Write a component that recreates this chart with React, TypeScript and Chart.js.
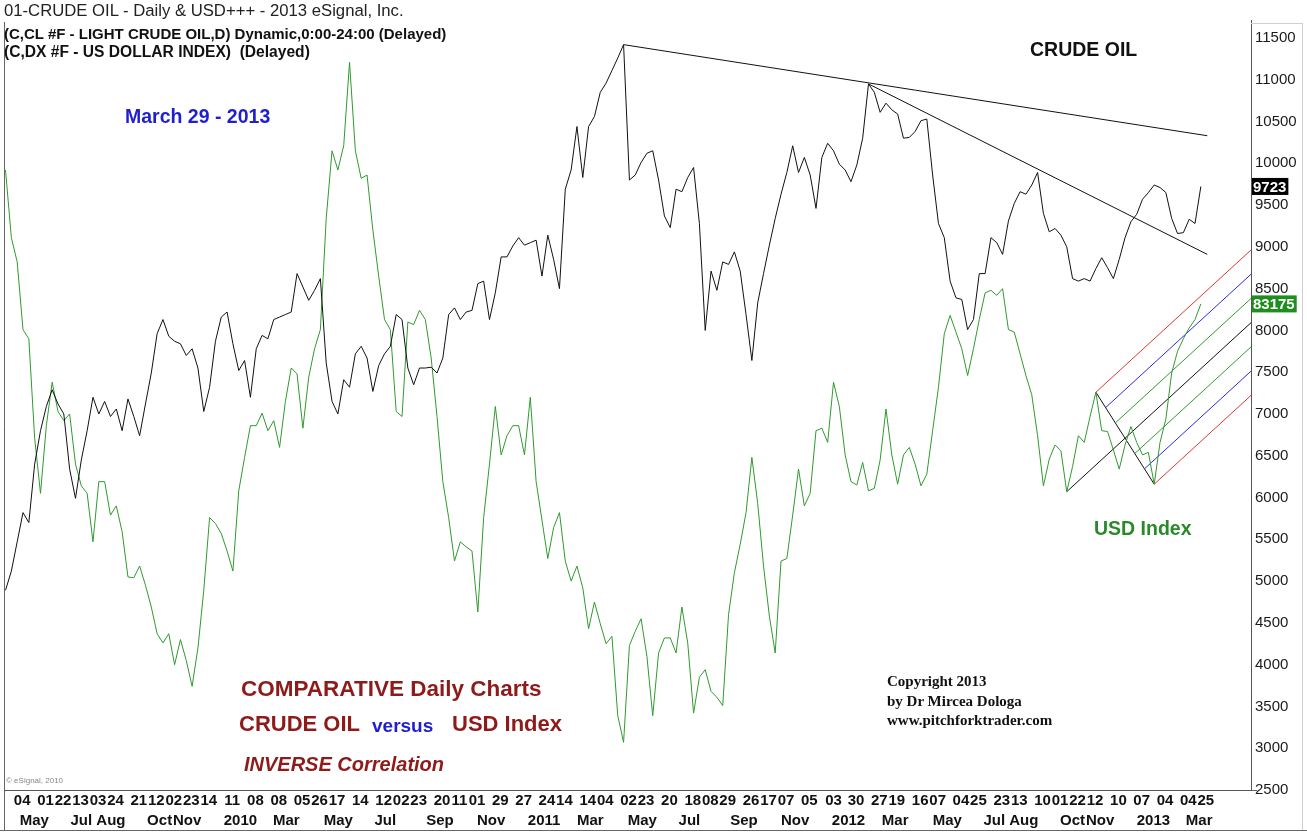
import React, { useEffect, useRef } from "react";
import { Chart, registerables } from "chart.js";
Chart.register(...registerables);

// ---------- data ----------
// one sample per week, the first one on this date
const firstSampleDate = "2009-04-14";
const sampleStepDays = 7;

// Light crude oil (cents)
const crudeOil: number[] = [
  4890, 5120, 5470, 5820, 5700, 6400, 6800, 7090, 7290, 7120,
  7000, 6340, 5990, 6450, 6800, 7200, 7000, 7150, 6970, 7060,
  6800, 7180, 6970, 6740, 7120, 7490, 7960, 8130, 7930, 7870,
  7840, 7700, 7780, 7550, 7030, 7320, 7870, 8160, 8220, 7840,
  7520, 7640, 7200, 7780, 7940, 7900, 8130, 8160, 8190, 8220,
  8680, 8520, 8360, 8480, 8620, 7610, 7150, 7000, 7410, 7320,
  7720, 7810, 7670, 7270, 7580, 7720, 7810, 8190, 8130, 7550,
  7350, 7550, 7550, 7560, 7490, 7670, 8190, 8270, 8130, 8220,
  8240, 8560, 8590, 8130, 8450, 8880, 8880, 9010, 9110, 9020,
  9050, 9080, 8650, 9140, 8850, 8500, 9690, 9920, 10440, 9830,
  10440, 10560, 10850, 10960, 11110, 11260, 11420, 9800, 9860, 10010,
  10120, 10150, 9800, 9370, 9230, 9690, 9660, 9830, 9950, 9280,
  8000, 8710, 8480, 8820, 8790, 8940, 8710, 8190, 7640, 8330,
  8680, 9020, 9340, 9630, 9890, 10210, 9890, 10070, 9860, 9460,
  10070, 10240, 10150, 9990, 9920, 9780, 9980, 10300, 10950, 10850,
  10610, 10720, 10640, 10590, 10300, 10310, 10380, 10510, 10530, 9860,
  9280, 9110, 8590, 8390, 8370, 8010, 8130, 8680, 8680, 9110,
  9050, 8910, 9310, 9520, 9660, 9630, 9740, 9890, 9400, 9180,
  9220, 9140, 9000, 8620, 8590, 8620, 8590, 8740, 8870, 8750,
  8620, 8850, 9110, 9300, 9390, 9570, 9650, 9740, 9710, 9650,
  9340, 9160, 9170, 9330, 9280, 9723,
];

// US Dollar Index (x100, drawn on the same scale)
const usdIndex: number[] = [
  9920, 9110, 8820, 8010, 7900, 6710, 6050, 6860, 7380, 7030,
  6920, 7000, 6400, 6140, 6050, 5470, 6190, 6190, 5790, 5900,
  5590, 5050, 5040, 5180, 4950, 4690, 4370, 4260, 4370, 4000,
  4300, 4050, 3740, 4200, 4890, 5760, 5690, 5570, 5360, 5120,
  6080, 6480, 6860, 6860, 7010, 6800, 6920, 6600, 7150, 7550,
  7480, 6830, 7440, 7780, 8010, 9340, 10150, 9920, 10210, 11210,
  10150, 9820, 9860, 9200, 8650, 8130, 8010, 7030, 6970, 8100,
  8070, 8240, 8130, 7670, 6970, 6190, 5760, 5240, 5470, 5410,
  5360, 4630, 5760, 6400, 7090, 6510, 6740, 6860, 6860, 6510,
  7200, 6190, 5730, 5270, 5640, 5820, 5240, 5000, 5180, 4920,
  4430, 4750, 4490, 4250, 4340, 3390, 3070, 4230, 4400, 4550,
  4100, 3390, 4140, 4320, 4320, 4140, 4690, 4260, 3420, 3850,
  3940, 3680, 3610, 3510, 4600, 5100, 5440, 5820, 6480, 5930,
  5180, 4580, 4140, 5240, 5270, 5790, 6340, 5900, 6050, 6800,
  6830, 6660, 7380, 7090, 6510, 6190, 6150, 6420, 6080, 6110,
  6450, 7060, 6510, 6160, 6510, 6600, 6400, 6140, 6280, 6800,
  7320, 7960, 8180, 7980, 7780, 7460, 7780, 8130, 8450, 8480,
  8420, 8500, 8010, 7980, 7720, 7460, 7230, 6740, 6140, 6460,
  6630, 6560, 6070, 6370, 6740, 6660, 6970, 7260, 6800, 6790,
  6570, 6340, 6630, 6850, 6660, 6510, 6540, 6160, 6660, 6940,
  7490, 7750, 7900, 8030, 8130, 8317.5,
];

const dayTickDates = [
  "2009-05-04", "2009-06-01", "2009-06-22", "2009-07-13", "2009-08-03", "2009-08-24",
  "2009-09-21", "2009-10-12", "2009-11-02", "2009-11-23", "2009-12-14",
  "2010-01-11", "2010-02-08", "2010-03-08", "2010-04-05", "2010-04-26", "2010-05-17",
  "2010-06-14", "2010-07-12", "2010-08-02", "2010-08-23", "2010-09-20", "2010-10-11",
  "2010-11-01", "2010-11-29", "2010-12-27",
  "2011-01-24", "2011-02-14", "2011-03-14", "2011-04-04", "2011-05-02", "2011-05-23",
  "2011-06-20", "2011-07-18", "2011-08-08", "2011-08-29", "2011-09-26", "2011-10-17",
  "2011-11-07", "2011-12-05",
  "2012-01-03", "2012-01-30", "2012-02-27", "2012-03-19", "2012-04-16", "2012-05-07",
  "2012-06-04", "2012-06-25", "2012-07-23", "2012-08-13", "2012-09-10", "2012-10-01",
  "2012-10-22", "2012-11-12", "2012-12-10",
  "2013-01-07", "2013-02-04", "2013-03-04", "2013-03-25",
];

const monthTickDates = [
  "2009-05-01", "2009-07-01", "2009-08-01", "2009-10-01", "2009-11-01",
  "2010-01-01", "2010-03-01", "2010-05-01", "2010-07-01", "2010-09-01", "2010-11-01",
  "2011-01-01", "2011-03-01", "2011-05-01", "2011-07-01", "2011-09-01", "2011-11-01",
  "2012-01-01", "2012-03-01", "2012-05-01", "2012-07-01", "2012-08-01", "2012-10-01",
  "2012-11-01", "2013-01-01", "2013-03-01",
];
const monthTickLabels = [
  "May", "Jul", "Aug", "Oct", "Nov",
  "2010", "Mar", "May", "Jul", "Sep", "Nov",
  "2011", "Mar", "May", "Jul", "Sep", "Nov",
  "2012", "Mar", "May", "Jul", "Aug", "Oct",
  "Nov", "2013", "Mar",
];

const priceTicks = [
  2500, 3000, 3500, 4000, 4500, 5000, 5500, 6000, 6500, 7000,
  7500, 8000, 8500, 9000, 9500, 10000, 10500, 11000, 11500,
];

// crude oil trend lines: [sample position, value]
const oilTrendStarts = [[106, 11420], [148, 10950]];
const oilTrendEnds = [[206.1, 10330], [206.1, 8910]];

// USD pitchfork pivots (sample indices): start pivot, high, low
const forkPivots = [182, 187, 197];
const forkLevels = [1, 2 / 3, 1 / 3, 0, -1 / 3, -2 / 3, -1];

// ---------- helpers ----------
const DAY = 86400000;
const toUTC = (s: string) => {
  const [y, m, d] = s.split("-").map(Number);
  return Date.UTC(y, m - 1, d);
};
const dateToX = (s: string) => (toUTC(s) - toUTC(firstSampleDate)) / DAY / sampleStepDays;

const X_MIN = -0.26;
const X_MAX = 213.6;
const Y_MIN = 2500;
const Y_MAX = 11715;

const FONT = "'Liberation Sans', Arial, Helvetica, sans-serif";
const SERIF = "'Liberation Serif', 'Times New Roman', serif";
const GREEN = "#2f9a2f";
const DARKRED = "#8e1a1a";
const BLUE = "#1f1fd0";
const forkColors = ["#e03535", "#2a2ae0", GREEN, "#111111", GREEN, "#2a2ae0", "#e03535"];

function buildFork() {
  const [iB, iA, iC] = forkPivots;
  const B = { x: iB, y: usdIndex[iB] };
  const A = { x: iA, y: usdIndex[iA] };
  const C = { x: iC, y: usdIndex[iC] };
  const M = { x: (A.x + C.x) / 2, y: (A.y + C.y) / 2 };
  const slope = (M.y - B.y) / (M.x - B.x);
  const lines = forkLevels.map((k, idx) => {
    const t = (1 - k) / 2;
    const P = k === 0 ? B : { x: A.x + t * (C.x - A.x), y: A.y + t * (C.y - A.y) };
    return {
      data: [P, { x: X_MAX, y: P.y + slope * (X_MAX - P.x) }],
      color: forkColors[idx],
    };
  });
  lines.push({ data: [A, C], color: "#111111" });
  return lines;
}

const tagPlugin = {
  id: "valueTags",
  afterDraw(chart: any) {
    const ys = chart.scales.y;
    const ctx = chart.ctx;
    const tags = [
      { v: crudeOil[crudeOil.length - 1], text: String(crudeOil[crudeOil.length - 1]), bg: "#000000" },
      { v: usdIndex[usdIndex.length - 1], text: String(Math.round(usdIndex[usdIndex.length - 1] * 10)), bg: "#1e8f1e" },
    ];
    ctx.save();
    ctx.font = `bold 15px ${FONT}`;
    tags.forEach((t) => {
      const py = ys.getPixelForValue(t.v);
      const w = ctx.measureText(t.text).width + 3;
      ctx.fillStyle = t.bg;
      ctx.fillRect(ys.left + 1, py - 8.5, w, 17);
      ctx.fillStyle = "#ffffff";
      ctx.textBaseline = "middle";
      ctx.textAlign = "left";
      ctx.fillText(t.text, ys.left + 2, py + 1);
    });
    ctx.restore();
  },
};

const framePlugin = {
  id: "frame",
  afterDraw(chart: any) {
    const ctx = chart.ctx;
    const a = chart.chartArea;
    ctx.save();
    ctx.strokeStyle = "#666";
    ctx.lineWidth = 1;
    ctx.beginPath();
    ctx.moveTo(a.left + 0.5, a.top + 2);
    ctx.lineTo(a.left + 0.5, chart.height - 1.5);
    ctx.moveTo(0, chart.height - 1.5);
    ctx.lineTo(chart.width, chart.height - 1.5);
    ctx.moveTo(a.right, a.bottom + 0.5);
    ctx.lineTo(a.right + 6, a.bottom + 0.5);
    ctx.stroke();
    ctx.strokeStyle = "#cfcfcf";
    ctx.beginPath();
    ctx.moveTo(a.right, a.top + 3.5);
    ctx.lineTo(chart.width - 4, a.top + 3.5);
    ctx.moveTo(chart.width - 4.5, a.top + 3.5);
    ctx.lineTo(chart.width - 4.5, chart.height - 2);
    ctx.stroke();
    ctx.restore();
  },
};

export default function App() {
  const ref = useRef<HTMLCanvasElement>(null);

  useEffect(() => {
    document.body.style.margin = "0";
    const canvas = ref.current;
    if (!canvas) return;

    const oilPts = crudeOil.map((v, i) => ({ x: i, y: v }));
    const usdPts = usdIndex.map((v, i) => ({ x: i, y: v }));
    const trend = oilTrendStarts.map((s, i) => ({
      data: [{ x: s[0], y: s[1] }, { x: oilTrendEnds[i][0], y: oilTrendEnds[i][1] }],
    }));
    const fork = buildFork();

    const lineDs = (label: string, data: any[], color: string) => ({
      label,
      data,
      borderColor: color,
      backgroundColor: color,
      borderWidth: 1,
      pointRadius: 0,
      tension: 0,
      fill: false,
    });

    const dayTicksX = dayTickDates.map(dateToX);
    const monthTicksX = monthTickDates.map(dateToX);

    const chart = new Chart(canvas, {
      type: "line",
      data: {
        datasets: [
          lineDs("Crude Oil", oilPts, "#111111"),
          lineDs("USD Index", usdPts, GREEN),
          ...trend.map((t, i) => lineDs("Trend " + (i + 1), t.data, "#111111")),
          ...fork.map((f, i) => lineDs("Fork " + (i + 1), f.data, f.color)),
        ],
      },
      plugins: [tagPlugin, framePlugin],
      options: {
        animation: false,
        responsive: false,
        devicePixelRatio: 1,
        parsing: false as any,
        normalized: true,
        layout: { padding: { left: 4, top: 20, right: 0, bottom: 0 } },
        plugins: { legend: { display: false }, tooltip: { enabled: false } },
        scales: {
          x: {
            type: "linear",
            position: "bottom",
            weight: 0,
            min: X_MIN,
            max: X_MAX,
            grid: { display: false, drawTicks: false },
            border: { display: true, color: "#555", width: 1 },
            afterBuildTicks: (s: any) => {
              s.ticks = dayTicksX.map((v) => ({ value: v }));
            },
            afterFit: (s: any) => {
              s.height = 21;
            },
            ticks: {
              autoSkip: false,
              maxRotation: 0,
              minRotation: 0,
              padding: 2,
              color: "#111",
              font: { family: FONT, size: 15, weight: "bold" },
              callback: (_v: any, i: number) => dayTickDates[i].slice(8, 10),
            },
          },
          x2: {
            type: "linear",
            position: "bottom",
            weight: 1,
            min: X_MIN,
            max: X_MAX,
            grid: { display: false, drawTicks: false },
            border: { display: false },
            afterBuildTicks: (s: any) => {
              s.ticks = monthTicksX.map((v) => ({ value: v }));
            },
            afterFit: (s: any) => {
              s.height = 21;
            },
            ticks: {
              autoSkip: false,
              maxRotation: 0,
              minRotation: 0,
              align: "start",
              padding: 1,
              color: "#111",
              font: { family: FONT, size: 15, weight: "bold" },
              callback: (_v: any, i: number) => monthTickLabels[i],
            },
          },
          y: {
            type: "linear",
            position: "right",
            min: Y_MIN,
            max: Y_MAX,
            grid: { display: false, drawTicks: false },
            border: { display: true, color: "#555", width: 1 },
            afterBuildTicks: (s: any) => {
              s.ticks = priceTicks.map((v) => ({ value: v }));
            },
            afterFit: (s: any) => {
              s.width = 56;
            },
            ticks: {
              padding: 4,
              color: "#1a1a1a",
              font: { family: FONT, size: 15 },
              callback: (v: any) => String(v),
            },
          },
        },
      } as any,
    });
    return () => chart.destroy();
  }, []);

  const abs = (left: number, top: number, extra: any = {}) => ({
    position: "absolute" as const,
    left,
    top,
    lineHeight: 1,
    whiteSpace: "pre" as const,
    fontFamily: FONT,
    margin: 0,
    ...extra,
  });

  return (
    <div style={{ position: "relative", width: 1307, height: 832, background: "#fff", overflow: "hidden" }}>
      <canvas ref={ref} width={1307} height={832} style={{ position: "absolute", left: 0, top: 0 }} />
      <div style={abs(4, 3, { fontSize: 16.7, color: "#222" })}>01-CRUDE OIL - Daily &amp; USD+++ - 2013 eSignal, Inc.</div>
      <div style={abs(4, 26, { fontSize: 15, fontWeight: "bold", color: "#111" })}>(C,CL #F - LIGHT CRUDE OIL,D) Dynamic,0:00-24:00 (Delayed)</div>
      <div style={abs(4, 44, { fontSize: 15.6, fontWeight: "bold", color: "#111" })}>(C,DX #F - US DOLLAR INDEX)  (Delayed)</div>
      <div style={abs(125, 107, { fontSize: 19.5, fontWeight: "bold", color: BLUE })}>March 29 - 2013</div>
      <div style={abs(1030, 40, { fontSize: 19.5, fontWeight: "bold", color: "#111" })}>CRUDE OIL</div>
      <div style={abs(1094, 519, { fontSize: 19.5, fontWeight: "bold", color: "#2a8a2a" })}>USD Index</div>
      <div style={abs(241, 678, { fontSize: 22.5, fontWeight: "bold", color: DARKRED })}>COMPARATIVE Daily Charts</div>
      <div style={abs(239, 713, { fontSize: 22, fontWeight: "bold", color: DARKRED })}>CRUDE OIL</div>
      <div style={abs(372, 716, { fontSize: 19, fontWeight: "bold", color: BLUE })}>versus</div>
      <div style={abs(452, 713, { fontSize: 22, fontWeight: "bold", color: DARKRED })}>USD Index</div>
      <div style={abs(244, 754, { fontSize: 20, fontWeight: "bold", fontStyle: "italic", color: DARKRED })}>INVERSE Correlation</div>
      <div style={abs(887, 674, { fontSize: 15, fontWeight: "bold", color: "#111", fontFamily: SERIF })}>Copyright 2013</div>
      <div style={abs(887, 694, { fontSize: 15, fontWeight: "bold", color: "#111", fontFamily: SERIF })}>by Dr Mircea Dologa</div>
      <div style={abs(887, 713, { fontSize: 15, fontWeight: "bold", color: "#111", fontFamily: SERIF })}>www.pitchforktrader.com</div>
      <div style={abs(6, 777, { fontSize: 8, color: "#888" })}>© eSignal, 2010</div>
    </div>
  );
}
